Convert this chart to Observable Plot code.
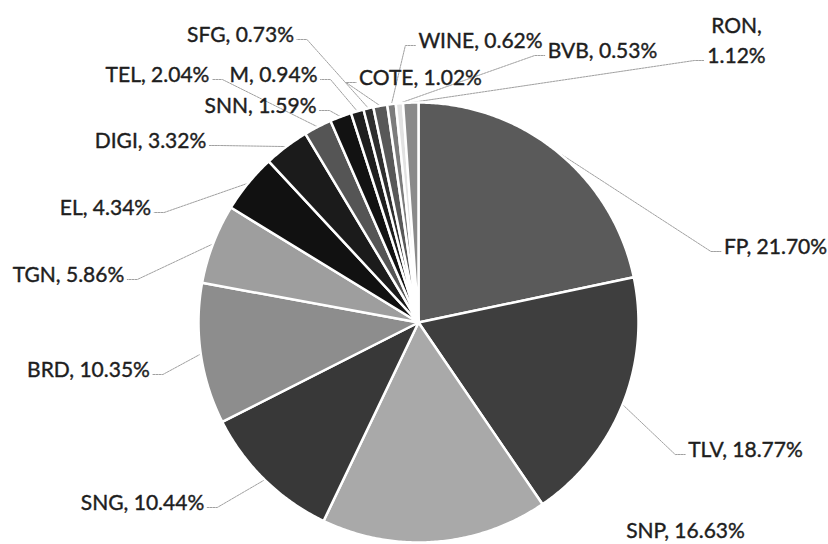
<!DOCTYPE html>
<html><head><meta charset="utf-8">
<script src="https://cdn.jsdelivr.net/npm/d3@7"></script>
<script src="https://cdn.jsdelivr.net/npm/@observablehq/plot@0.6"></script>
<style>body{margin:0;background:#fff}</style>
</head><body><div id="chart"></div>
<script>
// ---- data ----
const names  = ["FP","TLV","SNP","SNG","BRD","TGN","EL","DIGI","TEL","SNN","M","SFG","COTE","WINE","BVB","RON"];
const shares = [21.70,18.77,16.63,10.44,10.35,5.86,4.34,3.32,2.04,1.59,0.94,0.73,1.02,0.62,0.53,1.12];
const sliceColors = ["#5a5a5a","#3e3e3e","#a9a9a9","#383838","#8d8d8d","#9e9e9e","#111111","#1b1b1b",
                     "#555555","#121212","#1e1e1e","#2e2e2e","#585858","#7c7c7c","#e2e2e2","#8a8a8a"];
// ---- layout (label centres in pixels, leader on/off) ----
const labelPos = [[775,244],[745,447],[685,528],[142,500],[88,367],[68,272],[105,205],[150,138],
                  [157,72],[260,103],[273,72],[240,32],[420,75],[480,38],[602,48],[736,38]];
const hasLeader = [1,1,0,1,1,1,1,1,1,1,1,1,1,1,1,1];
const W = 828, H = 544, CX = 418, CY = 322, R = 220, FS = 21, LH = 30;

const total = d3.sum(shares);
const toUx = px => (px - CX) / R, toUy = py => (CY - py) / R;

// slices
const sliceRows = [];
let acc = 0;
const mids = [];
shares.forEach((v, i) => {
  const a0 = acc / total * 2 * Math.PI, a1 = (acc + v) / total * 2 * Math.PI;
  acc += v;
  mids.push((a0 + a1) / 2);
  const n = Math.max(4, Math.ceil((a1 - a0) / (Math.PI / 360)));
  sliceRows.push({name: names[i], color: sliceColors[i], x: 0, y: 0});
  for (let k = 0; k <= n; k++) {
    const a = a0 + (a1 - a0) * k / n;
    sliceRows.push({name: names[i], color: sliceColors[i], x: Math.sin(a), y: Math.cos(a)});
  }
  sliceRows.push({name: names[i], color: sliceColors[i], x: 0, y: 0});
});

// labels
const ctx = document.createElement("canvas").getContext("2d");
ctx.font = `${FS}px Lato`;
const labelTexts = names.map((n, i) => n === "RON" ? `${n},\n${shares[i].toFixed(2)}%` : `${n}, ${shares[i].toFixed(2)}%`);
const textRows = labelTexts.map((t, i) => ({text: t, x: toUx(labelPos[i][0]), y: toUy(labelPos[i][1])}));

// leaders
const leaderRows = [];
labelTexts.forEach((t, i) => {
  if (!hasLeader[i]) return;
  const lines = t.split("\n");
  const last = lines[lines.length - 1];
  const w = ctx.measureText(last).width;
  const [lx, ly0] = labelPos[i];
  const ly = ly0 + (lines.length - 1) * LH / 2 + 7;
  const px = CX + R * Math.sin(mids[i]), py = CY - R * Math.cos(mids[i]);
  let ax, ex;
  if (lx > px) { ax = lx - w / 2 - 3; ex = ax - 10; } else { ax = lx + w / 2 + 3; ex = ax + 10; }
  [[px, py], [ex, ly], [ax, ly]].forEach(([x, y]) => leaderRows.push({id: names[i], x: toUx(x), y: toUy(y)}));
});

const chart = Plot.plot({
  width: W, height: H, margin: 0,
  x: {domain: [toUx(0), toUx(W)], axis: null},
  y: {domain: [toUy(H), toUy(0)], axis: null},
  color: {type: "identity"},
  style: {background: "#fff", fontFamily: "Lato"},
  marks: [
    Plot.line(leaderRows, {x: "x", y: "y", z: "id", stroke: "#a0a0a0", strokeWidth: 1, strokeDasharray: "2,1"}),
    Plot.line(sliceRows, {x: "x", y: "y", z: "name", fill: "color", stroke: "#fff", strokeWidth: 2.5, strokeLinejoin: "round", curve: "linear"}),
    Plot.text(textRows, {x: "x", y: "y", text: "text", fontSize: FS, fill: "#1e1e1e", stroke: "#1e1e1e", strokeWidth: 0.4, lineHeight: LH / FS, fontFamily: "Lato"})
  ]
});
document.getElementById("chart").append(chart);
</script>
</body></html>
